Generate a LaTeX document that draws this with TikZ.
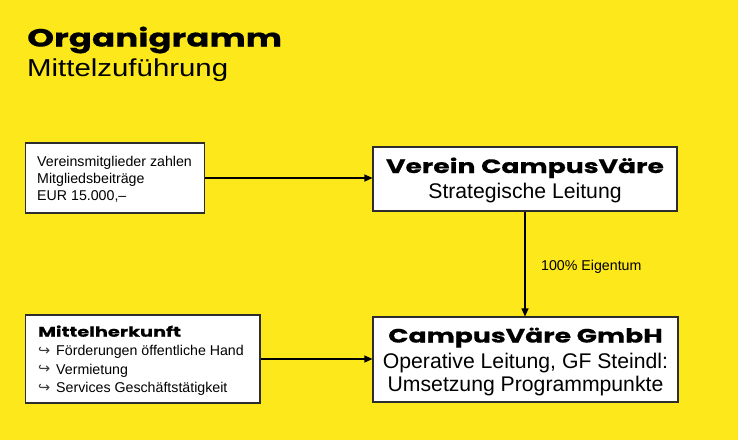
\documentclass[tikz,border=0pt]{standalone}
\usepackage{fontspec}
\setmainfont{Liberation Sans}
\newfontfamily\hfont[FakeStretch=1.38, BoldFeatures={FakeBold=0.6}]{Poppins}
\newfontfamily\subfont[FakeStretch=1.2]{Liberation Sans}
\newfontfamily\symfont{DejaVu Sans}
\usetikzlibrary{arrows.meta}
\definecolor{bgyellow}{RGB}{253,232,27}
\definecolor{boxedge}{RGB}{45,45,45}
\definecolor{hookgray}{RGB}{60,60,60}
\newcommand{\hookitem}{\makebox[18pt][l]{\raisebox{0.3pt}{\color{hookgray}\symfont\fontsize{14.5}{14.5}\selectfont ↪}}}
\begin{document}
\begin{tikzpicture}[x=1pt,y=-1pt,
  box/.style={draw=boxedge, line width=1.1pt, fill=white, inner sep=0pt},
  conn/.style={line width=1.1pt, -{Triangle[length=8pt,width=7pt]}},
  txt/.style={inner sep=0pt},
  small/.style={txt, font=\fontsize{14.2}{16.6}\selectfont},
  big/.style={txt, font=\fontsize{21.2}{24}\selectfont},
  bigbold/.style={txt, font=\hfont\bfseries\fontsize{19.3}{22}\selectfont},
  smallbold/.style={txt, font=\hfont\bfseries\fontsize{14}{16}\selectfont}]
\fill[bgyellow] (0,0) rectangle (738,440);
\useasboundingbox (0,0) rectangle (738,440);

% title
\node[txt, anchor=base west, font=\hfont\bfseries\fontsize{24.8}{28}\selectfont] (title) at (27,46.5) {Organigramm};
\node[txt, anchor=base west, font=\subfont\fontsize{24.5}{28}\selectfont] (subtitle) at (27,76.5) {Mittelzuführung};

% boxes
\node[box, minimum width=179pt, minimum height=70pt] (mitglieder) at (115,178) {};
\node[box, minimum width=304pt, minimum height=64pt] (verein) at (525,179) {};
\node[box, minimum width=234.5pt, minimum height=88pt] (herkunft) at (142.75,359) {};
\node[box, minimum width=305pt, minimum height=85pt] (gmbh) at (525.5,359.5) {};

% box texts
\node[small, anchor=base west] (m1) at (37,166.7) {Vereinsmitglieder zahlen};
\node[small, anchor=base west] (m2) at (37,183.3) {Mitgliedsbeiträge};
\node[small, anchor=base west] (m3) at (37,200.5) {EUR 15.000,–};

\node[bigbold, anchor=base] (v1) at (525,173) {Verein CampusVäre};
\node[big, anchor=base] (v2) at (525,198) {Strategische Leitung};

\node[smallbold, anchor=base west] (h1) at (38,336.7) {Mittelherkunft};
\node[small, anchor=base west] (h2) at (38,355.7) {\hookitem Förderungen öffentliche Hand};
\node[small, anchor=base west] (h3) at (38,374) {\hookitem Vermietung};
\node[small, anchor=base west] (h4) at (38,392.7) {\hookitem Services Geschäftstätigkeit};

\node[bigbold, anchor=base] (g1) at (525.5,342.5) {CampusVäre GmbH};
\node[big, anchor=base] (g2) at (525.5,368) {Operative Leitung, GF Steindl:};
\node[big, anchor=base] (g3) at (525.5,391) {Umsetzung Programmpunkte};

% connectors
\draw[conn] (mitglieder.east) -- (mitglieder.east -| verein.west);
\draw[conn] (herkunft.east) -- (herkunft.east -| gmbh.west);
\draw[conn] (verein.south) -- (verein.south |- gmbh.north);
\node[small, anchor=base west] (eigentum) at (541,270) {100\% Eigentum};
\end{tikzpicture}
\end{document}
